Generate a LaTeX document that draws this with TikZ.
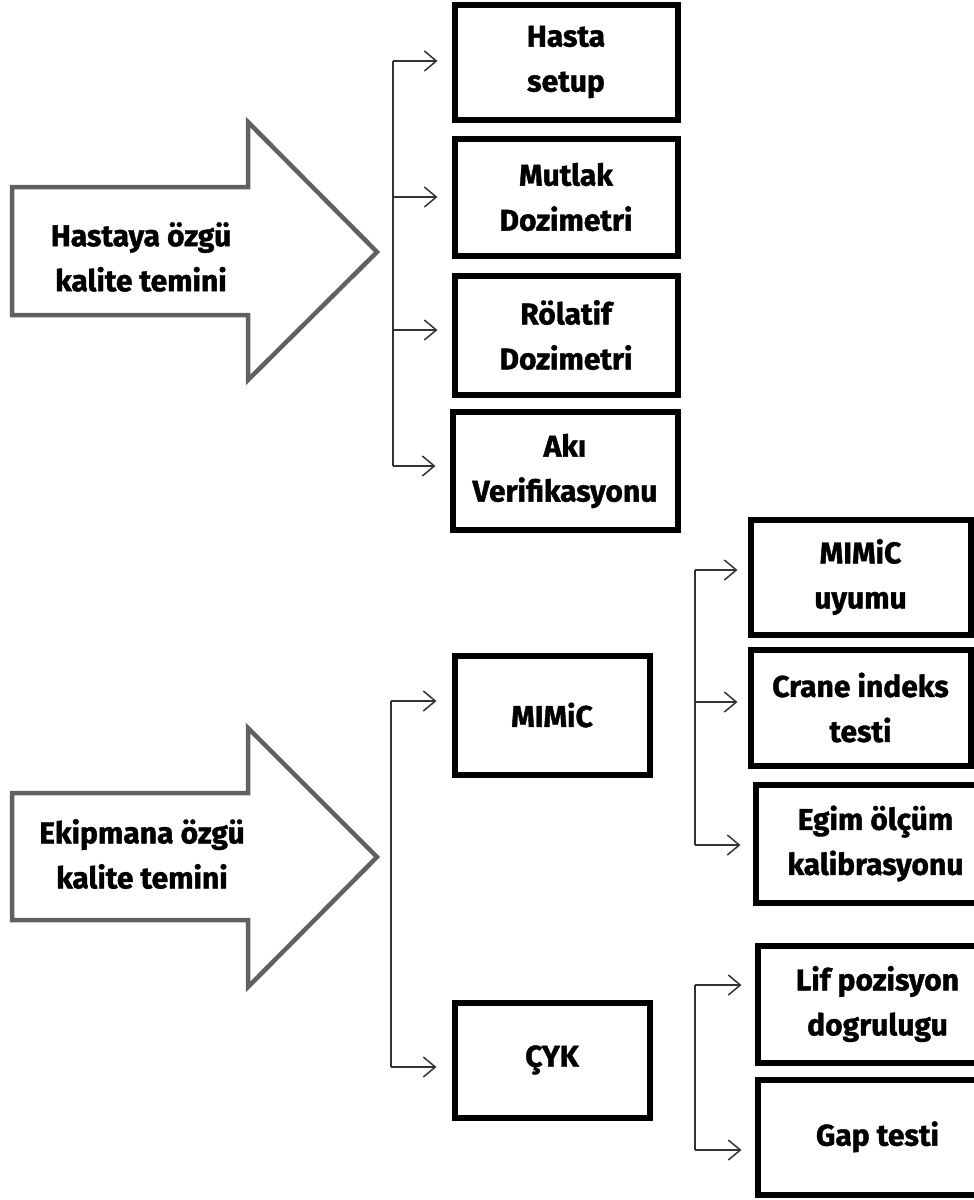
\documentclass[tikz,border=0pt]{standalone}
\usepackage{fontspec}
\setmainfont{Fira Sans}[BoldFeatures={FakeBold=1.3}]
\usetikzlibrary{arrows.meta}
\tikzset{
  box/.style={draw=black, line width=6pt, fill=white, align=center, inner sep=0pt,
    font=\fontsize{30}{45}\selectfont\bfseries},
  bigarrow/.style={draw=black!62, line width=4.5pt, fill=white, line join=miter},
  bigtext/.style={align=center, inner sep=0pt, font=\fontsize{30}{45}\selectfont\bfseries},
  trunk/.style={draw=black!80, line width=1.5pt},
  branch/.style={draw=black!80, line width=1.5pt, -{Straight Barb[length=12pt,width=20pt,line width=1.5pt]}},
}
\begin{document}
\begin{tikzpicture}[x=1pt,y=-1pt]
\useasboundingbox (0,0) rectangle (974,1200);
\fill[white] (0,0) rectangle (974,1200);

% big arrows
\draw[bigarrow] (12,187) -- (248,187) -- (248,122) -- (377,252) -- (248,380) -- (248,315) -- (12,315) -- cycle;
\node[bigtext] (hq) at (141,257) {Hastaya özgü\\kalite temini};
\draw[bigarrow] (12,793) -- (248,793) -- (248,728) -- (377,857) -- (248,987) -- (248,920) -- (12,920) -- cycle;
\node[bigtext] (eq) at (142,854) {Ekipmana özgü\\kalite temini};

% top boxes
\node[box, minimum width=223pt, minimum height=115pt] (hasta) at (566,62) {Hasta\\setup};
\node[box, minimum width=223pt, minimum height=117pt] (mutlak) at (566,197) {Mutlak\\Dozimetri};
\node[box, minimum width=223pt, minimum height=119pt] (rolatif) at (566,335) {Rölatif\\Dozimetri};
\node[box, minimum width=225pt, minimum height=118pt] (aki) at (565,471) {Akı\\Verifikasyonu};

% middle boxes
\node[box, minimum width=195pt, minimum height=119pt] (mimic) at (552,715) {MIMiC};
\node[box, minimum width=195pt, minimum height=115pt] (cyk) at (552,1060) {ÇYK};

% right boxes
\node[box, minimum width=220pt, minimum height=115pt] (uyum) at (860.5,577) {MIMiC\\uyumu};
\node[box, minimum width=220pt, minimum height=116pt] (crane) at (860.5,707.5) {Crane indeks\\testi};
\node[box, anchor=west, minimum width=240pt, minimum height=118pt] (egim) at (752.5,843.5) {Egim ölçüm\\kalibrasyonu};
\node[box, anchor=west, minimum width=240pt, minimum height=117pt] (lif) at (754.5,1004) {Lif pozisyon\\dogrulugu};
\node[box, anchor=west, minimum width=240pt, minimum height=115pt] (gap) at (754.5,1137) {\raisebox{7pt}{Gap testi}};

% top connectors
\coordinate (a1) at (393,61);
\coordinate (a2) at (393,197);
\coordinate (a3) at (393,330);
\coordinate (a4) at (393,466);
\draw[trunk] (a1) -- (a4);
\draw[branch, shorten >=14pt] (a1) -- (hasta.west |- a1);
\draw[branch, shorten >=14pt] (a2) -- (mutlak.west |- a2);
\draw[branch, shorten >=14pt] (a3) -- (rolatif.west |- a3);
\draw[branch, shorten >=14pt] (a4) -- (aki.west |- a4);

% middle connectors
\coordinate (b1) at (391,701);
\coordinate (b2) at (391,1067);
\draw[trunk] (b1) -- (b2);
\draw[branch, shorten >=15pt] (b1) -- (mimic.west |- b1);
\draw[branch, shorten >=15pt] (b2) -- (cyk.west |- b2);

% right connectors
\coordinate (c1) at (695,570);
\coordinate (c2) at (695,702);
\coordinate (c3) at (695,845);
\draw[trunk] (c1) -- (c3);
\draw[branch, shorten >=10pt] (c1) -- (uyum.west |- c1);
\draw[branch, shorten >=10pt] (c2) -- (crane.west |- c2);
\draw[branch, shorten >=12pt] (c3) -- (egim.west |- c3);

\coordinate (d1) at (695,985);
\coordinate (d2) at (695,1150);
\draw[trunk] (d1) -- (d2);
\draw[branch, shorten >=13pt] (d1) -- (lif.west |- d1);
\draw[branch, shorten >=13pt] (d2) -- (gap.west |- d2);
\end{tikzpicture}
\end{document}
